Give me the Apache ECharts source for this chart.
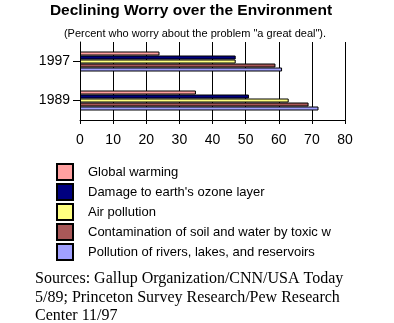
<!DOCTYPE html>
<html>
<head>
<meta charset="utf-8">
<script src="https://cdn.jsdelivr.net/npm/echarts@6/dist/echarts.min.js"></script>
<style>html,body{margin:0;padding:0;background:#fff;}#c{width:394px;height:323px;}</style>
</head>
<body>
<div id="c"></div>
<script>
const categories = ['1989', '1997'];
const seriesNames = [
  'Global warming',
  "Damage to earth's ozone layer",
  'Air pollution',
  'Contamination of soil and water by toxic w',
  'Pollution of rivers, lakes, and reservoirs'
];
const globalWarming = [35, 24];
const ozoneLayer = [51, 47];
const airPollution = [63, 47];
const toxicWaste = [69, 59];
const riversLakes = [72, 61];
const xTicks = [0, 10, 20, 30, 40, 50, 60, 70, 80];
const colors = ['#FFA0A0', '#000080', '#FFFF80', '#A85858', '#A0A0FF'];
const allValues = [globalWarming, ozoneLayer, airPollution, toxicWaste, riversLakes];

const chart = echarts.init(document.getElementById('c'));
const font = 'Arial, "Liberation Sans", sans-serif';
chart.setOption({
  animation: false,
  backgroundColor: '#fff',
  grid: { left: 80, right: 49, top: 42, height: 78 },
  xAxis: {
    type: 'value', min: xTicks[0], max: xTicks[xTicks.length - 1], interval: 10,
    axisLine: { show: true, lineStyle: { color: '#000', width: 1 } },
    axisTick: { show: true, length: 4, lineStyle: { color: '#000' } },
    splitLine: { show: true, lineStyle: { color: '#000', width: 1 } },
    axisLabel: { color: '#000', fontSize: 14, fontFamily: font, margin: 13 }
  },
  yAxis: {
    type: 'category', data: categories,
    axisLine: { show: true, lineStyle: { color: '#000', width: 1 } },
    axisTick: { show: true, alignWithLabel: true, length: 7, lineStyle: { color: '#000' } },
    axisLabel: { color: '#000', fontSize: 14, fontFamily: font, margin: 10 }
  },
  legend: {
    orient: 'vertical', left: 56, top: 163,
    itemWidth: 16, itemHeight: 16, itemGap: 2,
    icon: 'rect',
    data: seriesNames,
    textStyle: { color: '#000', fontSize: 13, lineHeight: 16, fontFamily: font, padding: [0, 0, 0, 10] },
    padding: 0
  },
  series: seriesNames.map((n, i) => ({
    name: n, type: 'bar', data: allValues[i],
    barWidth: 4, barGap: '0%',
    itemStyle: { color: colors[i], borderColor: '#000', borderWidth: 1 }
  })),
  graphic: [
    { type: 'text', x: 191, y: 11, style: { text: 'Declining Worry over the Environment', fill: '#000', font: 'bold 15.5px ' + font, textAlign: 'center', textVerticalAlign: 'middle' } },
    { type: 'text', x: 195, y: 34, style: { text: '(Percent who worry about the problem "a great deal").', fill: '#000', font: '11px ' + font, textAlign: 'center', textVerticalAlign: 'middle' } },
    { type: 'text', x: 35, y: 270, style: { text: 'Sources: Gallup Organization/CNN/USA Today\n5/89; Princeton Survey Research/Pew Research\nCenter 11/97', fill: '#000', font: '16px "Liberation Serif", "Times New Roman", serif', lineHeight: 18.5 } }
  ]
});
</script>
</body>
</html>
